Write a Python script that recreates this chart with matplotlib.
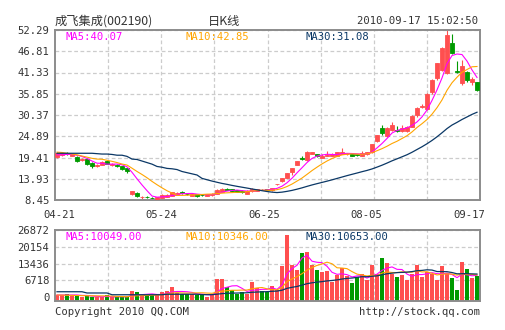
import numpy as np
import pandas as pd
import matplotlib
matplotlib.use('Agg')
import matplotlib.pyplot as plt

plt.rcParams['font.family'] = ['DejaVu Sans Mono', 'Noto Sans CJK SC']

# daily candles 04-21 .. 09-17
opens = [19.6, 20.0, 20.5, 19.9, 19.6, 18.7, 19.0, 18.1, 17.2, 17.5,
         18.5, 17.4, 17.4, 17.2, 16.6, 9.9, 10.3, 9.1, 9.2, 9.0,
         8.5, 9.0, 9.2, 9.6, 9.8, 10.6, 10.05, 9.6, 9.9, 9.85,
         9.6, 9.7, 10.0, 10.6, 11.25, 11.3, 10.9, 10.8, 10.1, 10.7,
         10.8, 11.15, 11.2, 10.9, 12.5, 13.3, 14.1, 15.6, 17.6, 19.25,
         18.8, 20.4, 20.2, 19.3, 19.8, 19.9, 19.9, 20.3, 20.2, 20.2,
         20.3, 19.9, 20.2, 20.7, 23.7, 27.1, 25.0, 26.5, 26.6, 26.2,
         26.3, 27.4, 30.4, 32.5, 31.9, 36.4, 39.9, 42.0, 41.3, 49.0,
         41.7, 38.6, 41.4, 38.9, 38.9]
closes = [20.5, 20.5, 20.3, 20.3, 18.4, 18.9, 17.8, 17.1, 17.5, 18.3,
          17.8, 17.8, 17.2, 16.5, 15.8, 10.7, 9.4, 9.3, 9.1, 8.9,
          9.2, 9.8, 9.7, 10.4, 10.3, 10.2, 9.95, 9.9, 9.5, 9.75,
          10.0, 10.1, 11.1, 11.4, 11.15, 10.8, 10.6, 10.4, 10.8, 11.3,
          11.2, 11.05, 10.9, 11.5, 12.6, 14.0, 15.5, 16.7, 18.5, 19.15,
          20.7, 20.8, 19.7, 19.9, 20.1, 20.4, 20.8, 20.7, 20.4, 19.9,
          20.0, 20.5, 20.8, 22.9, 25.2, 25.7, 27.0, 27.8, 26.2, 27.0,
          27.2, 30.2, 32.3, 32.7, 35.9, 39.5, 43.8, 47.7, 51.1, 46.4,
          41.5, 43.1, 39.3, 39.7, 36.7]
highs = [20.8, 20.7, 20.9, 20.4, 19.8, 19.2, 19.2, 18.3, 17.7, 18.4,
         18.6, 18.0, 17.8, 17.3, 16.8, 10.8, 10.4, 9.4, 9.5, 9.1,
         9.3, 9.9, 9.9, 10.5, 10.5, 10.7, 10.3, 10.0, 10.0, 10.0,
         10.1, 10.2, 11.2, 11.5, 11.5, 11.4, 11.0, 10.9, 10.9, 11.5,
         11.3, 11.4, 11.3, 11.6, 12.7, 14.1, 15.5, 16.8, 18.6, 19.7,
         21.2, 20.9, 20.3, 20.2, 21.0, 20.6, 20.9, 21.8, 20.5, 20.3,
         20.4, 21.1, 20.9, 23.0, 25.3, 27.7, 27.2, 28.5, 27.6, 27.8,
         27.5, 30.3, 32.4, 33.1, 36.0, 39.6, 43.9, 47.8, 52.29, 51.2,
         44.2, 44.5, 41.6, 40.1, 39.0]
lows = [19.3, 19.8, 20.0, 19.7, 18.2, 18.5, 17.6, 16.6, 17.0, 17.4,
        17.7, 17.2, 17.0, 16.3, 15.5, 9.7, 9.3, 8.7, 8.9, 8.7,
        8.45, 8.9, 9.1, 9.5, 9.7, 10.1, 9.8, 9.5, 9.2, 9.6,
        9.5, 9.6, 9.9, 10.5, 11.0, 10.7, 10.5, 10.3, 9.9, 10.5,
        10.7, 10.9, 10.8, 10.8, 12.4, 13.2, 14.0, 15.0, 17.5, 18.7,
        18.5, 20.3, 19.6, 19.2, 19.7, 19.8, 19.7, 20.2, 20.1, 19.8,
        19.9, 19.8, 20.0, 20.6, 23.3, 25.1, 24.6, 26.2, 25.9, 26.0,
        26.1, 27.3, 29.8, 32.2, 31.7, 35.9, 39.5, 41.8, 40.9, 46.0,
        41.3, 38.0, 38.8, 38.2, 36.5]
volumes = [970, 700, 1370, 560, 970, 100, 560, 100, 100, 100,
           700, 100, 100, 100, 100, 2590, 1900, 560, 840, 840,
           1370, 1900, 2690, 3920, 1640, 1370, 1370, 1370, 970, 1230,
           280, 970, 7300, 7460, 3920, 3000, 1370, 2100, 1230, 6200,
           3640, 2690, 2100, 4300, 3000, 12400, 24800, 12800, 10800, 17500,
           18100, 12800, 10700, 10000, 10300, 6100, 8700, 11700, 8400, 5700,
           8100, 9100, 7000, 12800, 9100, 15800, 13500, 9400, 8000, 8700,
           6700, 9100, 12800, 8000, 10200, 9100, 7000, 12400, 9500, 7500,
           2700, 14000, 11200, 7500, 8400]

# moving average values before a full window exists
ma5_head = [20.1, 20.1, 20.2, 20.2]
ma10_head = [20.8, 20.7, 20.5, 20.3, 20.1, 19.8, 19.5, 19.2, 19.0]
ma30_head = [20.5, 20.5, 20.5, 20.5, 20.5, 20.5, 20.5, 20.5, 20.4, 20.3,
             20.3, 20.2, 20.0, 20.0, 19.7, 19.0, 18.9, 18.5, 18.1, 17.7,
             17.1, 16.9, 16.6, 16.5, 16.3, 15.8, 15.5, 15.2, 14.9]
vma5_head = [900, 900, 900, 900]
vma10_head = [900, 850, 800, 750, 700, 650, 600, 600, 550]
vma30_head = [2200, 2200, 2200, 2200, 2200, 2200, 1700, 1700, 1700, 1700,
              1700, 1000, 1000, 1000, 1000, 1000, 1000, 1000, 1000, 1000,
              1000, 1000, 1200, 1200, 1200, 1200, 1200, 1200, 1200]

price_ticks = [8.45, 13.93, 19.41, 24.89, 30.37, 35.85, 41.33, 46.81, 52.29]
vol_ticks = [0, 6718, 13436, 20154, 26872]
date_labels = ['04-21', '05-24', '06-25', '08-05', '09-17']

RED = '#ff4f4f'
GREEN = '#009a00'
MAGENTA = '#ff00ff'
ORANGE = '#ffa500'
NAVY = '#0b3866'
TEXT = '#333333'
GRID = '#cccccc'


def moving(values, n, head):
    out = pd.Series(values, dtype=float).rolling(n).mean().to_numpy()
    out[:len(head)] = head
    return out


W, H = 505, 330
fig = plt.figure(figsize=(W / 100, H / 100), dpi=100)
ax = fig.add_axes([55 / W, 1 - 200 / H, 425 / W, 170 / H])
axv = fig.add_axes([55 / W, 1 - 301 / H, 425 / W, 71 / H])

x = np.arange(len(closes))
o = np.array(opens)
c = np.array(closes)
up = c >= o
colors = [RED if u else GREEN for u in up]

# candles
ax.vlines(x, lows, highs, colors=colors, linewidth=0.8, zorder=2)
ax.bar(x, np.abs(c - o), bottom=np.minimum(o, c), width=0.75,
       color=colors, edgecolor=colors, linewidth=0.6, zorder=3)
ax.plot(x, moving(closes, 5, ma5_head), color=MAGENTA, lw=0.8, zorder=4)
ax.plot(x, moving(closes, 10, ma10_head), color=ORANGE, lw=0.8, zorder=4)
ax.plot(x, moving(closes, 30, ma30_head), color=NAVY, lw=0.9, zorder=4)

# volume
vfloor = -1500
v = np.array(volumes, dtype=float)
axv.bar(x, v - vfloor, bottom=vfloor, width=0.8, color=colors, linewidth=0, zorder=2)
axv.plot(x, moving(volumes, 5, vma5_head), color=MAGENTA, lw=0.8, zorder=3)
axv.plot(x, moving(volumes, 10, vma10_head), color=ORANGE, lw=0.8, zorder=3)
axv.plot(x, moving(volumes, 30, vma30_head), color=NAVY, lw=0.9, zorder=3)

xgrid = [-0.4 + 85 / 8 * k for k in range(1, 8)]
for a in (ax, axv):
    a.set_xlim(-0.4, 84.6)
    a.set_xticks(xgrid)
    a.set_xticklabels([])
    a.grid(True, color=GRID, linestyle=(0, (3, 2)), linewidth=0.9, zorder=0)
    a.set_axisbelow(True)
    a.tick_params(length=0, labelsize=7.6, colors=TEXT, pad=4)
    for s in a.spines.values():
        s.set_color('#8c8c8c')
        s.set_linewidth(1.4)

ax.set_ylim(price_ticks[0], price_ticks[-1])
ax.set_yticks(price_ticks)
ax.set_yticklabels(['%.2f' % t for t in price_ticks])
axv.set_ylim(vfloor, vol_ticks[-1])
axv.set_yticks(vol_ticks)
axv.set_yticklabels([str(t) for t in vol_ticks])


def px(xp, yp):
    return xp / W, 1 - yp / H


for lab, xp in zip(date_labels, [59, 161.5, 264.5, 366.5, 469]):
    fig.text(*px(xp, 215), lab, ha='center', va='center', fontsize=7.6, color=TEXT)

fig.text(*px(55, 21), '成飞集成(002190)', family=['Noto Sans CJK SC', 'DejaVu Sans'],
         fontsize=8.8, color=TEXT, va='center')
fig.text(*px(224, 21), '日K线', family=['Noto Sans CJK SC', 'DejaVu Sans'],
         fontsize=8.8, color=TEXT, va='center', ha='center')
fig.text(*px(478, 21), '2010-09-17 15:02:50', fontsize=7.6, color=TEXT,
         va='center', ha='right')

fig.text(*px(65, 37), 'MA5:40.07', fontsize=7.6, color=MAGENTA, va='center')
fig.text(*px(185, 37), 'MA10:42.85', fontsize=7.6, color=ORANGE, va='center')
fig.text(*px(305, 37), 'MA30:31.08', fontsize=7.6, color=NAVY, va='center')
fig.text(*px(65, 237), 'MA5:10049.00', fontsize=7.6, color=MAGENTA, va='center')
fig.text(*px(185, 237), 'MA10:10346.00', fontsize=7.6, color=ORANGE, va='center')
fig.text(*px(305, 237), 'MA30:10653.00', fontsize=7.6, color=NAVY, va='center')

fig.text(*px(55, 312), 'Copyright 2010 QQ.COM', fontsize=7.6, color=TEXT, va='center')
fig.text(*px(480, 312), 'http://stock.qq.com', fontsize=7.6, color=TEXT,
         va='center', ha='right')

fig.savefig('out.png', dpi=100)
